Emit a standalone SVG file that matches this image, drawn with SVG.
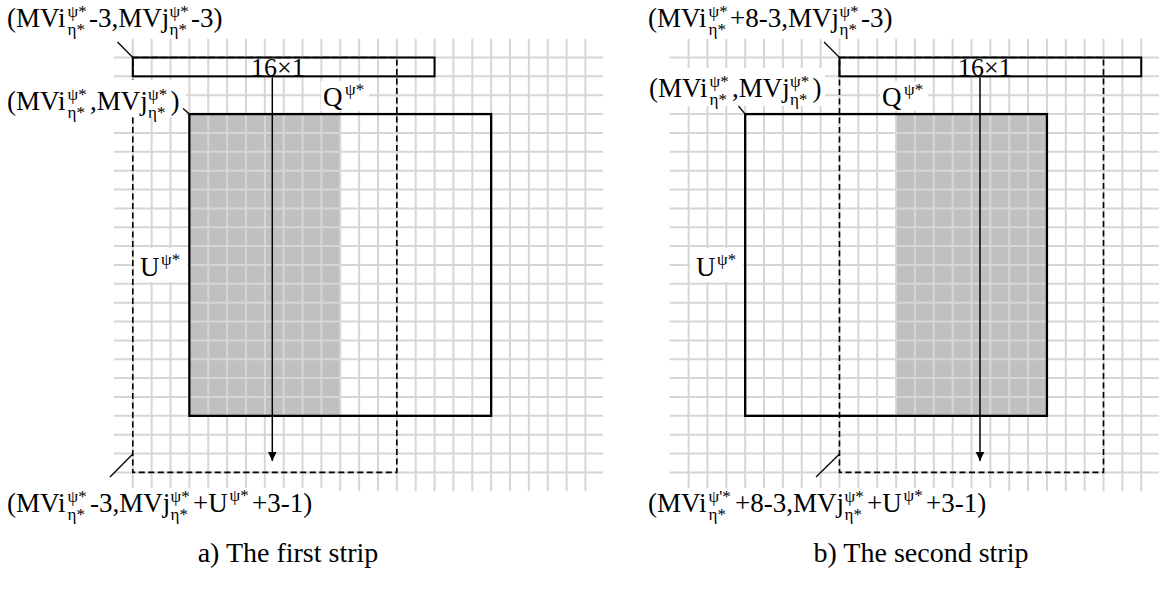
<svg xmlns="http://www.w3.org/2000/svg" xmlns:xlink="http://www.w3.org/1999/xlink" width="1161" height="604" viewBox="0 0 1161 604">
<style>
text{font-family:"Liberation Serif","Times New Roman",serif;fill:#000}
.t{font-size:27px}
.s{font-size:17px}
.cap{font-size:28px;text-anchor:middle}
.grid{stroke:#d6d6d6;stroke-width:2;fill:none}
.shade{fill:#c0c0c0}
.win{fill:none;stroke:#000;stroke-width:1.6;stroke-dasharray:6,3.5}
.strip{fill:none;stroke:#000;stroke-width:2}
.blk{fill:none;stroke:#000;stroke-width:2.3}
.bg{fill:#fff}
.lead{stroke:#000;stroke-width:1.3;fill:none}
.arr{stroke:#000;stroke-width:1.5;fill:none}
</style>
<defs>
<marker id="ah" markerUnits="userSpaceOnUse" markerWidth="10" markerHeight="11" refX="9.5" refY="5" orient="auto">
<path d="M0,0.5 L9.5,5 L0,9.5 Z" fill="#000"/>
</marker>
<path id="gridpath" class="grid" d="M132.8 38.64V491.28M151.66 38.64V491.28M170.52 38.64V491.28M189.38 38.64V491.28M208.24 38.64V491.28M227.1 38.64V491.28M245.96 38.64V491.28M264.82 38.64V491.28M283.68 38.64V491.28M302.54 38.64V491.28M321.4 38.64V491.28M340.26 38.64V491.28M359.12 38.64V491.28M377.98 38.64V491.28M396.84 38.64V491.28M415.7 38.64V491.28M434.56 38.64V491.28M453.42 38.64V491.28M472.28 38.64V491.28M491.14 38.64V491.28M510 38.64V491.28M528.86 38.64V491.28M547.72 38.64V491.28M566.58 38.64V491.28M585.44 38.64V491.28M113.9 57.5H603M113.9 76.36H603M113.9 95.22H603M113.9 114.08H603M113.9 132.94H603M113.9 151.8H603M113.9 170.66H603M113.9 189.52H603M113.9 208.38H603M113.9 227.24H603M113.9 246.1H603M113.9 264.96H603M113.9 283.82H603M113.9 302.68H603M113.9 321.54H603M113.9 340.4H603M113.9 359.26H603M113.9 378.12H603M113.9 396.98H603M113.9 415.84H603M113.9 434.7H603M113.9 453.56H603M113.9 472.42H603"/>
</defs>
<rect width="1161" height="604" fill="#fff"/>

<!-- Panel a -->
<g id="panel-a">
<rect id="a-shade" class="shade" x="189.38" y="114.08" width="150.88" height="301.76"/>
<use xlink:href="#gridpath" href="#gridpath"/>
<g id="a-window"><rect class="win" x="132.8" y="57.5" width="264.04" height="414.92"/></g>
<g id="a-strip"><rect class="strip" x="132.8" y="57.5" width="301.76" height="18.86"/>
<rect class="bg" x="250" y="59" width="56" height="16"/>
<text class="t" x="251" y="75.5" style="font-size:26px">16×1</text></g>
<g id="a-block"><rect class="blk" x="189.38" y="114.08" width="301.76" height="301.76"/></g>
<g id="a-label-top"><text class="t" y="27"><tspan x="7">(MVi</tspan><tspan class="s" x="67.5" y="16.5">ψ*</tspan><tspan class="s" x="67.5" y="35">η*</tspan><tspan x="89" y="27">-3,MVj</tspan><tspan class="s" x="169.5" y="16.5">ψ*</tspan><tspan class="s" x="169.5" y="35">η*</tspan><tspan x="191" y="27">-3)</tspan></text></g>
<g id="a-label-mv"><rect class="bg" x="4" y="80" width="182" height="37"/><text class="t" y="110"><tspan x="7">(MVi</tspan><tspan class="s" x="67.5" y="99.5">ψ*</tspan><tspan class="s" x="67.5" y="118">η*</tspan><tspan x="90" y="110">,MVj</tspan><tspan class="s" x="148" y="99.5">ψ*</tspan><tspan class="s" x="148" y="118">η*</tspan><tspan x="170.5" y="110">)</tspan></text></g>
<g id="a-label-q"><rect class="bg" x="321" y="81" width="48" height="30"/><text class="t" y="106"><tspan x="323">Q</tspan><tspan class="s" x="345" y="95">ψ*</tspan></text></g>
<g id="a-label-u"><rect class="bg" x="134.5" y="248" width="53" height="34"/><text class="t" y="276"><tspan x="140">U</tspan><tspan class="s" x="161" y="265">ψ*</tspan></text></g>
<g id="a-label-bottom"><rect class="bg" x="4" y="488" width="322" height="34"/><text class="t" y="512"><tspan x="7">(MVi</tspan><tspan class="s" x="67.5" y="501.5">ψ*</tspan><tspan class="s" x="67.5" y="520">η*</tspan><tspan x="90" y="512">-3,MVj</tspan><tspan class="s" x="170.5" y="501.5">ψ*</tspan><tspan class="s" x="170.5" y="520">η*</tspan><tspan x="193" y="512">+U</tspan><tspan class="s" x="229.5" y="501">ψ*</tspan><tspan x="252" y="512">+3-1)</tspan></text></g>
<text id="a-caption" class="cap" x="288" y="562">a) The first strip</text>
</g>

<!-- Panel b -->
<g id="panel-b">
<rect id="b-shade" class="shade" x="896.06" y="114.08" width="150.88" height="301.76"/>
<use xlink:href="#gridpath" href="#gridpath" transform="translate(555.8,0)"/>
<g id="b-window"><rect class="win" x="839.48" y="57.5" width="264.04" height="414.92"/></g>
<g id="b-strip"><rect class="strip" x="839.48" y="57.5" width="301.76" height="18.86"/>
<rect class="bg" x="957" y="59" width="56" height="16"/>
<text class="t" x="958" y="75.5" style="font-size:26px">16×1</text></g>
<g id="b-block"><rect class="blk" x="745.18" y="114.08" width="301.76" height="301.76"/></g>
<g id="b-label-top"><text class="t" y="27"><tspan x="648">(MVi</tspan><tspan class="s" x="708.5" y="16.5">ψ*</tspan><tspan class="s" x="708.5" y="35">η*</tspan><tspan x="730" y="27">+8-3,MVj</tspan><tspan class="s" x="839.5" y="16.5">ψ*</tspan><tspan class="s" x="839.5" y="35">η*</tspan><tspan x="861" y="27">-3)</tspan></text></g>
<g id="b-label-mv"><rect class="bg" x="645" y="68" width="180" height="38"/><text class="t" y="97"><tspan x="649">(MVi</tspan><tspan class="s" x="709.5" y="86.5">ψ*</tspan><tspan class="s" x="709.5" y="105">η*</tspan><tspan x="732" y="97">,MVj</tspan><tspan class="s" x="790" y="86.5">ψ*</tspan><tspan class="s" x="790" y="105">η*</tspan><tspan x="812.5" y="97">)</tspan></text></g>
<g id="b-label-q"><rect class="bg" x="880" y="81" width="48" height="30"/><text class="t" y="106"><tspan x="882">Q</tspan><tspan class="s" x="904" y="95">ψ*</tspan></text></g>
<g id="b-label-u"><rect class="bg" x="690.3" y="248" width="53" height="34"/><text class="t" y="276"><tspan x="696">U</tspan><tspan class="s" x="717" y="265">ψ*</tspan></text></g>
<g id="b-label-bottom"><rect class="bg" x="645" y="488" width="350" height="34"/><text class="t" y="512"><tspan x="648">(MVi</tspan><tspan class="s" x="708.5" y="501.5">ψ'*</tspan><tspan class="s" x="708.5" y="520">η*</tspan><tspan x="735" y="512">+8-3,MVj</tspan><tspan class="s" x="844.5" y="501.5">ψ*</tspan><tspan class="s" x="844.5" y="520">η*</tspan><tspan x="867" y="512">+U</tspan><tspan class="s" x="903.5" y="501">ψ*</tspan><tspan x="926" y="512">+3-1)</tspan></text></g>
<text id="b-caption" class="cap" x="921" y="562">b) The second strip</text>
</g>

<g id="connectors">
<line class="arr" x1="272.3" y1="77.4" x2="272.3" y2="461" marker-end="url(#ah)"/>
<line class="arr" x1="980" y1="77.4" x2="980" y2="461" marker-end="url(#ah)"/>
<line class="lead" x1="117.5" y1="42" x2="132.8" y2="57.5"/>
<line class="lead" x1="183" y1="108.5" x2="189.4" y2="114.1"/>
<line class="lead" x1="110" y1="477" x2="132.8" y2="454"/>
<line class="lead" x1="824" y1="42" x2="839.5" y2="57.5"/>
<line class="lead" x1="738.5" y1="106" x2="745.2" y2="114.1"/>
<line class="lead" x1="816" y1="477" x2="839.5" y2="454"/>
</g>
</svg>
